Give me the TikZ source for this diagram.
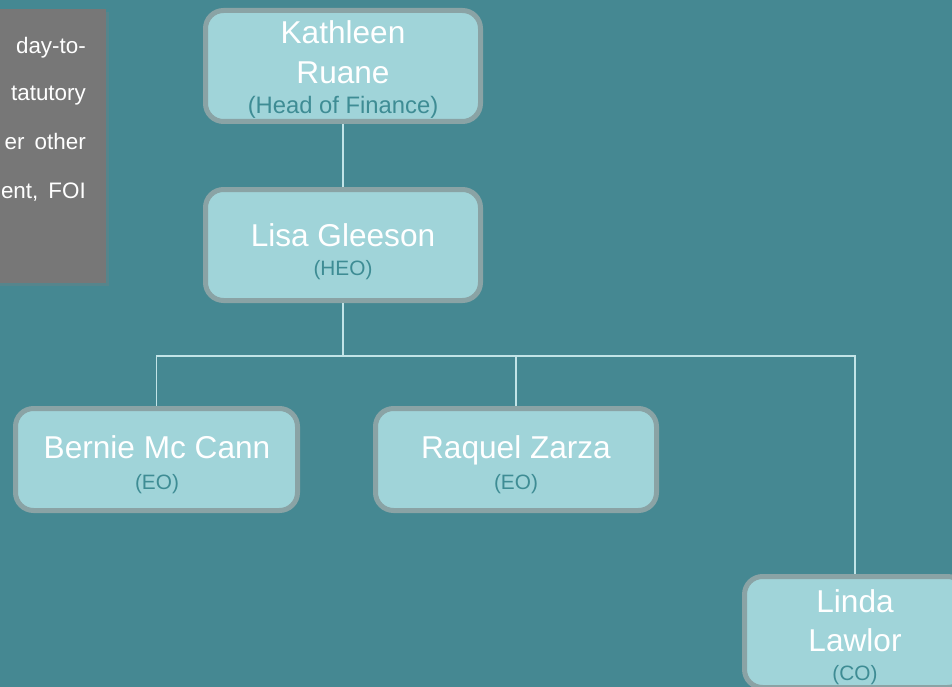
\documentclass[tikz,border=0pt]{standalone}
\usepackage{fontspec}
\setmainfont{Liberation Sans}
\usetikzlibrary{shadows}
\definecolor{bg}{HTML}{458892}
\definecolor{boxfill}{HTML}{A0D4D9}
\definecolor{boxborder}{HTML}{8AA3A5}
\definecolor{subtext}{HTML}{3E8C94}
\definecolor{notefill}{HTML}{777777}
\definecolor{wire}{HTML}{C2E4E7}
\begin{document}
\begin{tikzpicture}[x=1pt,y=-1pt,
  person/.style={rectangle, rounded corners=18pt, draw=boxborder, line width=5pt, fill=boxfill, inner sep=0pt},
  namet/.style={anchor=base, inner sep=0pt, text=white, font=\fontsize{31.6}{36}\selectfont},
  subt/.style={anchor=base, inner sep=0pt, text=subtext, font=\fontsize{20.8}{24}\selectfont},
  notebox/.style={rectangle, fill=notefill, inner sep=0pt, drop shadow={shadow xshift=3pt, shadow yshift=-3pt, opacity=0.3}},
  notet/.style={anchor=base east, inner sep=0pt, text=white, font=\fontsize{22.4}{26}\selectfont},
  wireline/.style={draw=wire, line width=1.4pt}]
\useasboundingbox (0,0) rectangle (952,687);
\fill[bg] (0,0) rectangle (952,687);

% note box
\node[notebox, minimum width=200pt, minimum height=274pt, anchor=north east] (note) at (106,9) {};
\node[notet] (n1) at (86,53.5) {day-to-};
\node[notet] (n2) at (86,100.5) {tatutory};
\node[notet] (n3) at (86,150) {er\hspace{0.45em}other};
\node[notet] (n4) at (86,198.5) {ent,\hspace{0.45em}FOI};

% boxes
\node[person, minimum width=275pt, minimum height=111pt] (kath) at (343,66) {};
\node[person, minimum width=275pt, minimum height=111pt] (lisa) at (343,245) {};
\node[person, minimum width=282pt, minimum height=102pt] (bern) at (156.5,459.5) {};
\node[person, minimum width=281pt, minimum height=102pt] (raq) at (516,459.5) {};
\node[person, minimum width=221pt, minimum height=111pt] (linda) at (855,632) {};

% connectors
\coordinate (bus) at (343,356);
\draw[wireline] (kath.south) -- (lisa.north);
\draw[wireline] (lisa.south) -- (bus);
\draw[wireline] (bus) -| (bern.north);
\draw[wireline] (bus) -| (raq.north);
\draw[wireline] (bus) -| (linda.north);

% texts
\node[namet] (kath1) at (343,43.3) {Kathleen};
\node[namet] (kath2) at (343,83.3) {Ruane};
\node[subt, font=\fontsize{23.8}{28}\selectfont] (kath3) at (343,113.3) {(Head of Finance)};

\node[namet] (lisa1) at (343,246.7) {Lisa Gleeson};
\node[subt] (lisa2) at (343,275) {(HEO)};

\node[namet] (bern1) at (157,458.3) {Bernie Mc Cann};
\node[subt] (bern2) at (157,489) {(EO)};

\node[namet] (raq1) at (516,458.3) {Raquel Zarza};
\node[subt] (raq2) at (516,489) {(EO)};

\node[namet] (linda1) at (855,612.7) {Linda};
\node[namet] (linda2) at (855,651.7) {Lawlor};
\node[subt] (linda3) at (855,680.7) {(CO)};
\end{tikzpicture}
\end{document}
